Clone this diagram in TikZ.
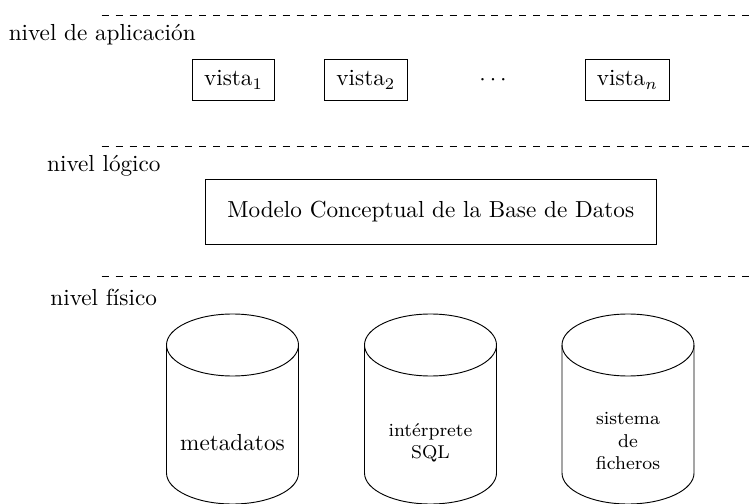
\documentclass[tikz,border=0pt]{standalone}
\usepackage{fontspec}
\begin{document}
\begin{tikzpicture}[x=0.431pt,y=-0.431pt,
  sepline/.style={dashed, line width=0.4pt},
  lvl/.style={anchor=base west, inner sep=0pt},
  vbox/.style={draw, line width=0.4pt, minimum height=17.7pt, inner sep=0pt},
  dbtext/.style={align=center, inner sep=0pt},
  dbshape/.style={line width=0.4pt}]
\useasboundingbox (0,0) rectangle (753,504);
% separators
\coordinate (s1a) at (101.7,15);  \coordinate (s1b) at (753,15);
\coordinate (s2a) at (101.7,146); \coordinate (s2b) at (753,146);
\coordinate (s3a) at (101.7,276.7); \coordinate (s3b) at (753,276.7);
\draw[sepline] (s1a) -- (s1b);
\draw[sepline] (s2a) -- (s2b);
\draw[sepline] (s3a) -- (s3b);
% level labels
\node[lvl] (l1) at (8.3,40.7) {nivel de aplicación};
\node[lvl] (l2) at (46.7,171.7) {nivel lógico};
\node[lvl] (l3) at (50,305.7) {nivel físico};
% application level
\node[vbox, minimum width=35.2pt] (v1) at (233.5,80) {vista$_1$};
\node[vbox, minimum width=36.1pt] (v2) at (365.9,80) {vista$_2$};
\node[inner sep=0pt] (dots) at (493,80) {$\cdots$};
\node[vbox, minimum width=35.9pt] (vn) at (627.4,80) {vista$_n$};
% logical level
\node[draw, line width=0.4pt, minimum width=194.5pt, minimum height=28.4pt, inner sep=0pt] (mod) at (430.7,212) {Modelo Conceptual de la Base de Datos};
% physical level
\def\rx{28.45pt}\def\ry{13.36pt}
\foreach \cx/\nm in {232.5/c1, 430.5/c2, 628/c3}{
  \coordinate (\nm) at (\cx,345);
  \draw[dbshape] (\nm) ellipse[x radius=\rx, y radius=\ry];
  \draw[dbshape] (\cx-66,345) -- (\cx-66,473)
     arc[start angle=180, end angle=360, x radius=\rx, y radius=\ry] -- (\cx+66,345);
}
\node[dbtext] (t1) at (232.5,443) {metadatos};
\node[dbtext, font=\footnotesize] (t2) at (430.5,443) {intérprete\\SQL};
\node[dbtext, font=\footnotesize] (t3) at (628,441) {sistema\\de\\ficheros};
\end{tikzpicture}
\end{document}
